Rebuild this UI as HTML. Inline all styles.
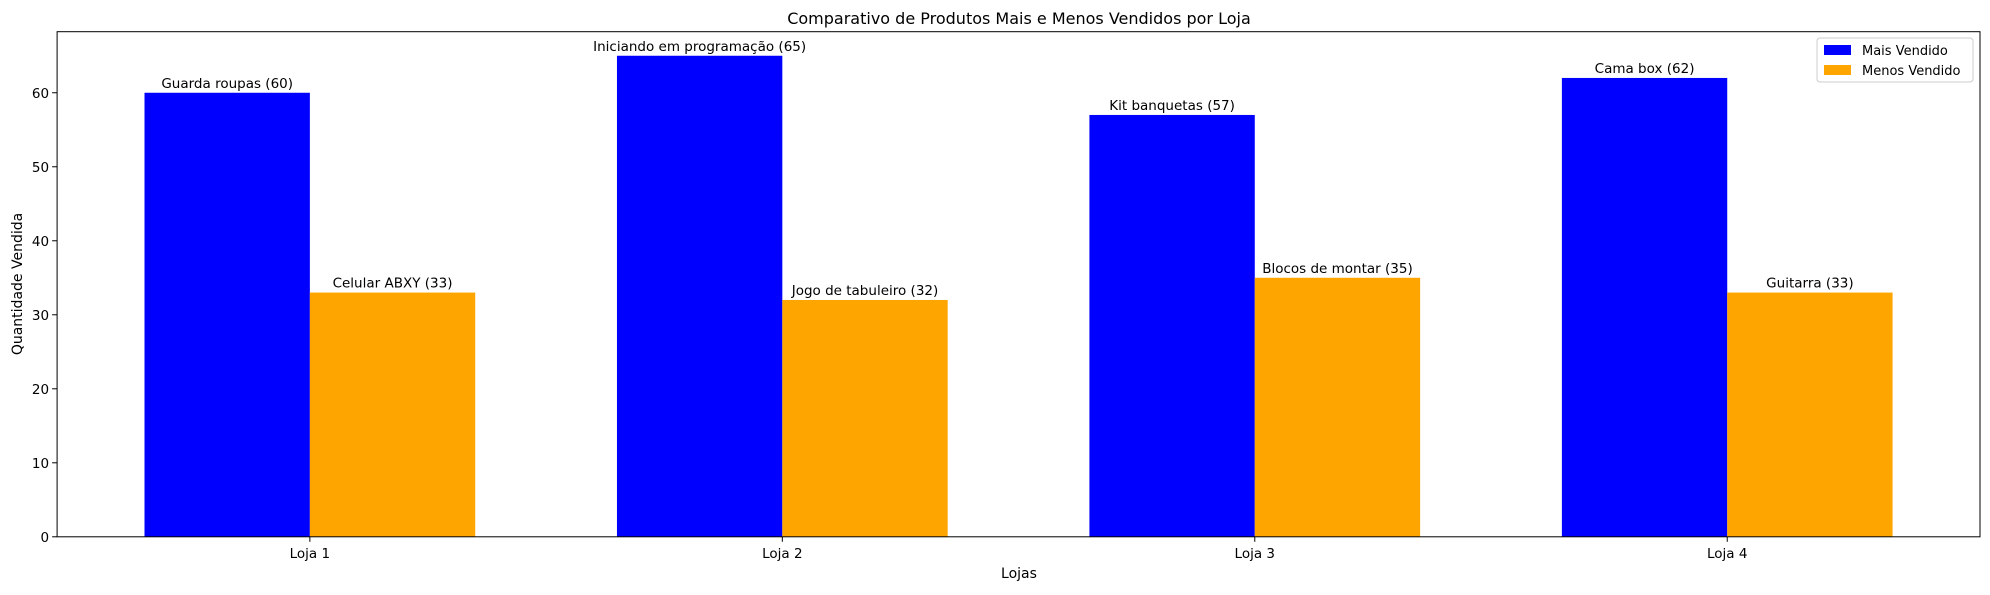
<!DOCTYPE html>
<html><head><meta charset="utf-8"><style>
html,body{margin:0;padding:0;background:#fff;}
svg text{font-family:"DejaVu Sans","Liberation Sans",sans-serif;fill:#000;}
</style></head><body>
<svg id="chart" width="1990" height="590" xmlns="http://www.w3.org/2000/svg">
<text x="1019" y="24" font-size="16" text-anchor="middle">Comparativo de Produtos Mais e Menos Vendidos por Loja</text>
<g id="bars"></g>
<g id="axes"></g>
<text x="1019" y="578" font-size="14" text-anchor="middle">Lojas</text>
<text transform="translate(22,284) rotate(-90)" font-size="14" text-anchor="middle">Quantidade Vendida</text>
<g>
<rect x="1817" y="38" width="156" height="44" rx="3" fill="#fff" fill-opacity="0.8" stroke="#ccc"/>
<rect x="1824" y="45" width="27" height="10" fill="#0000ff"/>
<text x="1862" y="55" font-size="13">Mais Vendido</text>
<rect x="1824" y="65" width="27" height="10" fill="#ffa500"/>
<text x="1862" y="75" font-size="13">Menos Vendido</text>
</g>
</svg>
<script>
const categories = ["Loja 1","Loja 2","Loja 3","Loja 4"];
const maisValues = [60,65,57,62];
const maisNames = ["Guarda roupas","Iniciando em programação","Kit banquetas","Cama box"];
const menosValues = [33,32,35,33];
const menosNames = ["Celular ABXY","Jogo de tabuleiro","Blocos de montar","Guitarra"];
const yTicks = [0,10,20,30,40,50,60];

const NS="http://www.w3.org/2000/svg";
const L=57.1,R=1980,T=31.7,B=536.8;
const xmin=-0.535,xmax=categories.length-1+0.535;
const ymax=Math.max(...maisValues,...menosValues)*1.05;
const xs=v=>L+(v-xmin)/(xmax-xmin)*(R-L);
const ys=v=>B-v/ymax*(B-T);
const bw=0.35;
function mk(tag,attrs,parent){const e=document.createElementNS(NS,tag);for(const k in attrs)e.setAttribute(k,attrs[k]);parent.appendChild(e);return e;}
const bars=document.getElementById('bars'),axes=document.getElementById('axes');
categories.forEach((c,i)=>{
  const series=[[maisValues[i],maisNames[i],'#0000ff',i-bw,'mais'],[menosValues[i],menosNames[i],'#ffa500',i,'menos']];
  series.forEach(([v,n,col,x0,key])=>{
    const r=mk('rect',{x:xs(x0),y:ys(v),width:xs(x0+bw)-xs(x0),height:B-ys(v),fill:col},bars);
    
    
    const t=mk('text',{x:xs(x0+bw/2),y:ys(v)-5,'font-size':13.5,'text-anchor':'middle'},bars);
    t.textContent=n+' ('+v+')';
    
    
  });
  mk('line',{x1:xs(i),x2:xs(i),y1:B,y2:B+5,stroke:'#000'},axes);
  const tl=mk('text',{x:xs(i),y:B+21,'font-size':13.5,'text-anchor':'middle'},axes);
  tl.textContent=c;
  
  
});
yTicks.forEach(v=>{
  mk('line',{x1:L-5,x2:L,y1:ys(v),y2:ys(v),stroke:'#000'},axes);
  const t=mk('text',{x:L-8,y:ys(v)+5,'font-size':13.5,'text-anchor':'end'},axes);
  t.textContent=v;
  
  
});
const fr=mk('rect',{x:L,y:T,width:R-L,height:B-T,fill:'none',stroke:'#000','stroke-width':1},axes);


</script>
</body></html>
